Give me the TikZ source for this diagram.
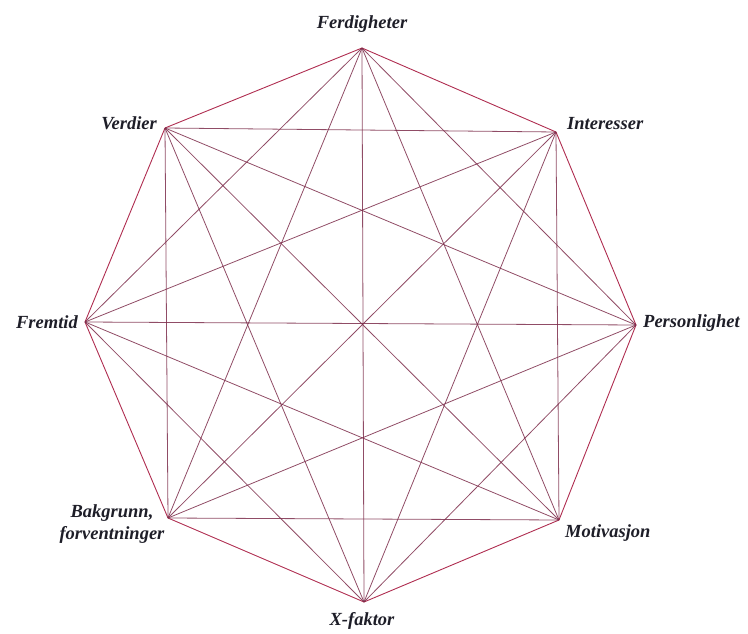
\documentclass[tikz,border=0pt]{standalone}
\usepackage{fontspec}
\setmainfont{Liberation Serif}
\definecolor{edgecol}{RGB}{175,45,80}
\definecolor{diagcol}{RGB}{125,45,75}
\definecolor{txtcol}{RGB}{30,30,40}
\begin{document}
\begin{tikzpicture}[x=1pt,y=-1pt,
  vtx/.style={inner sep=0pt,minimum size=0pt},
  lbl/.style={font=\fontsize{18.5}{22}\selectfont\itshape\bfseries, text=txtcol, inner sep=0pt},
  rim/.style={draw=edgecol, line width=0.9pt},
  diag/.style={draw=diagcol, line width=0.8pt, opacity=0.85}]
\useasboundingbox (0,0) rectangle (748,634);
\coordinate (F) at (362,48);
\coordinate (I) at (556,132);
\coordinate (P) at (636,325);
\coordinate (M) at (559,520);
\coordinate (X) at (364,602);
\coordinate (B) at (168,518);
\coordinate (T) at (85,322);
\coordinate (V) at (165,128);
% perimeter
\draw[rim] (F) -- (I) -- (P) -- (M) -- (X) -- (B) -- (T) -- (V) -- cycle;
% diagonals
\foreach \a/\b in {F/P,F/M,F/X,F/B,F/T,
                   I/M,I/X,I/B,I/T,I/V,
                   P/X,P/B,P/T,P/V,
                   M/B,M/T,M/V,
                   X/T,X/V,
                   B/V}
  \draw[diag] (\a) -- (\b);
% labels
\node[lbl] (lF) at (362,24) {Ferdigheter};
\node[lbl, anchor=east] (lV) at (157,123) {Verdier};
\node[lbl, anchor=west] (lI) at (567,124) {Interesser};
\node[lbl, anchor=east] (lT) at (78,322) {Fremtid};
\node[lbl, anchor=west] (lP) at (643,323) {Personlighet};
\node[lbl, align=center] (lB) at (112,524) {Bakgrunn,\\forventninger};
\node[lbl, anchor=west] (lM) at (565,533) {Motivasjon};
\node[lbl] (lX) at (362,621) {X-faktor};
\end{tikzpicture}
\end{document}
